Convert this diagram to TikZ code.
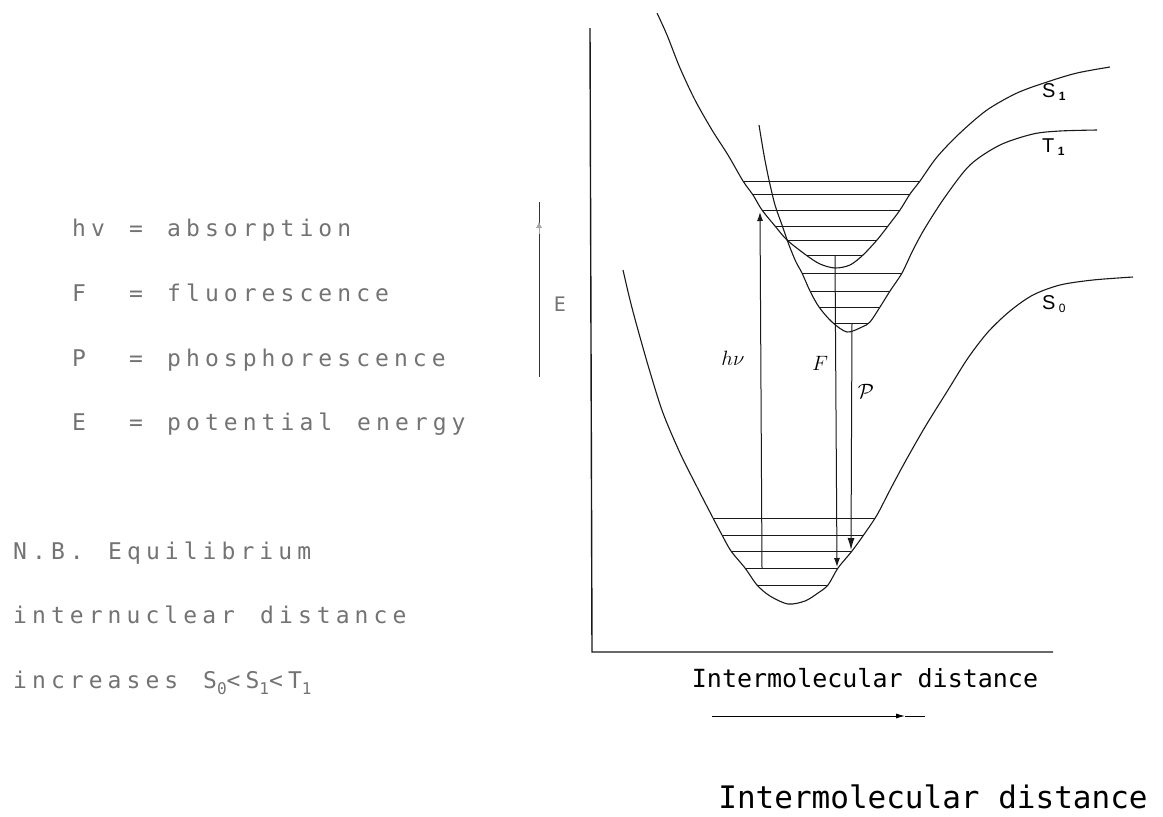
\documentclass[tikz,border=0pt]{standalone}
\usepackage{fontspec}
\usepackage{graphicx}
\usetikzlibrary{arrows.meta}
\newfontfamily\legendfont[LetterSpace=22]{DejaVu Sans Mono}
\newfontfamily\monofont{DejaVu Sans Mono}
\newfontfamily\labelfont{Liberation Sans}
\newcommand\dsub[1]{\raisebox{-0.3em}{\scalebox{0.7}{#1}}}
\newcommand\curveSone[2]{\path[#1] plot[smooth] coordinates {(657,13) (667,35) (680,68) (695,100) (712,130) (728,155) (743,181) (753,195) (762,210) (775,226) (787,240) (806,255) (820,264) (835,268) (850,265) (863,255) (877,240) (888,226) (900,210) (910,194) (920,181) (937,157) (960,133) (987,110) (1017,93) (1047,82) (1077,73) (1110,67)} #2;}
\newcommand\curveTone[2]{\path[#1] plot[smooth] coordinates {(759,125) (764,155) (769,180) (775,205) (782,225) (789,245) (796,262) (802,273) (810,291) (819,307) (832,322) (847,332) (862,327) (870,322) (880,307) (890,291) (902,273) (913,250) (925,228) (945,197) (970,165) (1000,145) (1033,134) (1060,131) (1097,130)} #2;}
\newcommand\curveSzero[2]{\path[#1] plot[smooth] coordinates {(623,270) (630,300) (638,330) (650,372) (663,413) (680,453) (697,487) (713,518) (722,535) (731,551) (745,568) (757,585) (770,596) (788,604) (805,601) (818,593) (828,585) (838,568) (852,551) (865,533) (877,515) (890,490) (905,462) (925,427) (948,390) (968,358) (988,332) (1010,311) (1033,295) (1060,285) (1093,280) (1133,277)} #2;}
\begin{document}
\begin{tikzpicture}[x=1pt,y=-1pt,
  legend/.style={anchor=base west, inner sep=0pt, text=black!55, font=\legendfont\fontsize{23}{23}\selectfont},
  curve/.style={line width=1.1pt, black!90},
  vib/.style={line width=1pt, black!90},
  axis/.style={line width=1.4pt, black!90},
  trans/.style={line width=1pt, black!90},
  hand/.style={inner sep=0pt, font=\fontsize{22}{22}\selectfont},
  statelabel/.style={anchor=west, inner sep=0pt, font=\labelfont\fontsize{20}{20}\selectfont}]
\useasboundingbox (0,0) rectangle (1163,817);
% axes
\coordinate (yTop) at (590,28);
\coordinate (origin) at (592,652);
\coordinate (xEnd) at (1053,652);
\draw[axis] (yTop) -- (origin) -- (xEnd);
% energy scale bar
\coordinate (eTop) at (539,202);
\coordinate (eBot) at (539,377);
\draw[line width=1pt, black!80] (eTop) -- (eBot);
\coordinate (eMarkA) at (539,234);
\coordinate (eMarkB) at (539,222);
\draw[black!35, -{Latex[length=6pt,width=6pt]}] (eMarkA) -- (eMarkB);
\node[inner sep=0pt, text=black!55, font=\monofont\fontsize{20}{20}\selectfont] (Elab) at (560,304) {E};
% curves
\curveSone{draw,curve}{}
\curveTone{draw,curve}{}
\curveSzero{draw,curve}{}
% vibrational levels
\begin{scope}
\curveSone{clip}{-- cycle}
\foreach \y in {181,194,210,226,240,255} \draw[vib] (620,\y) -- (1000,\y);
\end{scope}
\begin{scope}
\curveTone{clip}{-- cycle}
\foreach \y in {273,291,307,323} \draw[vib] (700,\y) -- (1000,\y);
\end{scope}
\begin{scope}
\curveSzero{clip}{-- cycle}
\foreach \y in {518,535,551,568,585} \draw[vib] (600,\y) -- (1000,\y);
\end{scope}
% transitions
\coordinate (hvA) at (762,568);
\coordinate (hvB) at (760,212);
\coordinate (FA) at (835,255);
\coordinate (FB) at (837,567);
\coordinate (PA) at (852,323);
\coordinate (PB) at (851,550);
\draw[trans, -{Latex[length=9pt,width=6pt]}] (hvA) -- (hvB);
\draw[trans, -{Latex[length=9pt,width=6pt]}] (FA) -- (FB);
\draw[trans, -{Latex[length=12pt,width=7pt]}] (PA) -- (PB);
\node[hand] (hvlab) at (733,358) {$h\nu$};
\node[hand] (Flab) at (820,363) {$F$};
\node[hand] (Plab) at (866,391) {$\mathcal{P}$};
% state labels
\node[statelabel] (S1lab) at (1042,92) {S\,\raisebox{-3pt}{\fontsize{12}{12}\selectfont\bfseries 1}};
\node[statelabel] (T1lab) at (1042,147) {T\,\raisebox{-3pt}{\fontsize{12}{12}\selectfont\bfseries 1}};
\node[statelabel] (S0lab) at (1042,304) {S\,\raisebox{-3pt}{\fontsize{12}{12}\selectfont 0}};
% legend
\foreach \y/\a/\b in {236/hv/absorption, 301/F/fluorescence, 366/P/phosphorescence, 430/E/potential}{
  \node[legend] at (72,\y) {\a};
  \node[legend] at (129,\y) {=};
  \node[legend] at (167,\y) {\b};
}
\node[legend] (energy) at (357,430) {energy};
\node[legend] (nb1) at (13,559) {N.B.};
\node[legend] (nb2) at (108,559) {Equilibrium};
\node[legend] (nb3) at (13,623) {internuclear};
\node[legend] (nb4) at (260,623) {distance};
\node[legend] (nb5) at (13,688) {increases};
\node[legend] (nb6) at (203,688) {S\dsub{0}<S\dsub{1}<T\dsub{1}};
% x axis labels
\node[anchor=base, inner sep=0pt, font=\monofont\fontsize{25}{25}\selectfont] (xlab) at (865,687) {Intermolecular distance};
\coordinate (xarrA) at (712,716);
\coordinate (xarrB) at (905,716);
\coordinate (xarrC) at (925,716);
\draw[line width=0.9pt, -{Latex[length=9pt,width=5pt]}] (xarrA) -- (xarrB);
\draw[line width=0.9pt] (xarrB) -- (xarrC);
\node[anchor=base, inner sep=0pt, font=\monofont\fontsize{31}{31}\selectfont] (xlab2) at (933,808) {Intermolecular distance};
\end{tikzpicture}
\end{document}
